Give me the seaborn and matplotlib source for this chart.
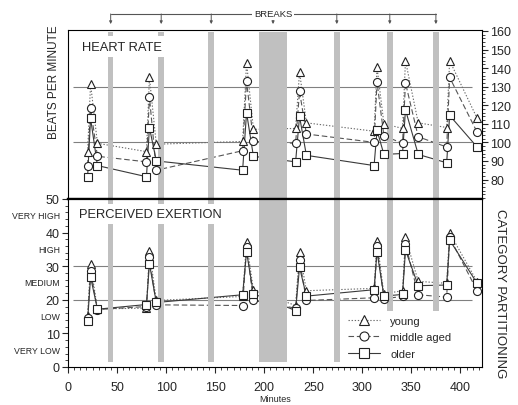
import pandas as pd
import matplotlib
matplotlib.use('Agg')
import matplotlib.pyplot as plt
import matplotlib.transforms as mtransforms
from matplotlib.lines import Line2D
from matplotlib.ticker import MultipleLocator
import seaborn as sns

# Data
minutes = [20, 23, 30, 80, 83, 90, 178, 182, 189, 232, 236, 243,
           312, 315, 322, 341, 344, 357, 386, 389, 417]
groups = ['young', 'middle aged', 'older']

hr_young = [95, 131.5, 99.5, 95, 135, 99, 100.5, 143, 107, 107.5, 138, 110.5,
            106, 140.5, 110, 107.5, 144, 110.5, 108, 144, 113]
hr_middle = [87.5, 118.5, 92.5, 89.5, 124.5, 85, 95.5, 133, 100.5, 99.5, 127.5, 104.5,
             100, 132.5, 103.5, 99.5, 132, 103, 97.5, 135, 105.5]
hr_older = [81.5, 113, 87.5, 81.5, 108, 90, 85, 116, 92.5, 89.5, 114, 93,
            87.5, 106.5, 93.5, 94, 117.5, 93.5, 89, 114.5, 97.5]

rpe_young = [15.2, 30.6, 17.3, 17.5, 34.6, 19.8, 21, 37.1, 22.9, 18.3, 34.3, 22.7,
             23.4, 37.4, 21.8, 22.7, 38.6, 25.5, 24.9, 39.9, 25.4]
rpe_middle = [14.5, 28.6, 17.1, 18, 32.6, 18.5, 18.3, 35.6, 19.8, 17.5, 31.8, 19.8,
              20.6, 35.9, 20.3, 21, 36.6, 21.5, 20.8, 38.6, 22.7]
rpe_older = [13.8, 26.8, 17.2, 18.6, 30.7, 19.2, 21.5, 34.3, 21.8, 16.8, 29.7, 21.1,
             23, 34.3, 21.1, 21.6, 34.8, 24.2, 24.4, 37.8, 24.9]

breaks = [(41, 46), (92, 98), (143, 149), (195, 223), (271, 277), (325, 331), (372, 378)]
hr_refs = [100, 130]
rpe_refs = [20, 30]
hr_ticks = [80, 90, 100, 110, 120, 130, 140, 150, 160]
rpe_ticks = [0, 10, 20, 30, 40, 50]
x_ticks = [0, 50, 100, 150, 200, 250, 300, 350, 400]
categories = ['VERY LOW', 'LOW', 'MEDIUM', 'HIGH', 'VERY HIGH']
category_pos = [5, 15, 25, 35, 45]

frames = []
for g, hr, rpe in zip(groups, [hr_young, hr_middle, hr_older], [rpe_young, rpe_middle, rpe_older]):
    frames.append(pd.DataFrame({'minute': minutes, 'group': g, 'hr': hr, 'rpe': rpe}))
df = pd.concat(frames, ignore_index=True)

sns.set_style('ticks')
plt.rcParams['font.family'] = ['Liberation Sans', 'DejaVu Sans']

markers = {'young': '^', 'middle aged': 'o', 'older': 's'}
dashes = {'young': (1.2, 1.6), 'middle aged': (5, 2.5), 'older': ''}
palette = {'young': '#6a6a6a', 'middle aged': '#555555', 'older': '#3a3a3a'}
band_color = '#c0c0c0'

fig = plt.figure(figsize=(5.18, 4.06), dpi=100)
W, H = 518, 406
ax1 = fig.add_axes([68 / W, 1 - 200 / H, 414 / W, 169 / H])
ax2 = fig.add_axes([68 / W, 1 - 368 / H, 414 / W, 168 / H])

mark_kws = dict(markerfacecolor='white', markeredgecolor='#222222', markersize=5.8,
                markeredgewidth=0.8)
for ax, col in [(ax1, 'hr'), (ax2, 'rpe')]:
    # lines (the break bands are drawn over them)
    sns.lineplot(data=df, x='minute', y=col, hue='group', style='group',
                 palette=palette, dashes=dashes, markers=False,
                 estimator=None, errorbar=None, sort=False, legend=False,
                 ax=ax, linewidth=0.8, zorder=2)
    # open markers on top
    sns.lineplot(data=df, x='minute', y=col, hue='group', style='group',
                 palette=palette, dashes=False, markers=markers,
                 estimator=None, errorbar=None, sort=False, legend=False,
                 ax=ax, linewidth=0, zorder=3, **mark_kws)
    ax.set_xlim(0, 422)
    ax.set_xlabel('')
    ax.set_ylabel('')

# rest breaks
for a, b in breaks:
    ax1.axvspan(a, b, ymin=0, ymax=0.988, color=band_color, lw=0, zorder=2.2)
    ax2.axvspan(a, b, ymin=0.03, ymax=1, color=band_color, lw=0, zorder=2.2)

ax1.hlines(hr_refs, 5, 412, color='#808080', lw=0.8, zorder=1.5)
ax2.hlines(rpe_refs, 5, 412, color='#808080', lw=0.8, zorder=1.5)

# upper panel axes
ax1.set_ylim(69.5, 160.5)
ax1.yaxis.tick_right()
ax1.set_yticks(hr_ticks)
ax1.yaxis.set_minor_locator(MultipleLocator(2))
ax1.tick_params(axis='x', which='both', bottom=False, labelbottom=False)
ax1.tick_params(axis='y', which='major', length=4, width=0.8, labelsize=9, pad=2, direction='out')
ax1.tick_params(axis='y', which='minor', length=2, width=0.6, direction='out')

# lower panel axes
ax2.set_ylim(0, 50)
ax2.set_yticks(rpe_ticks)
ax2.yaxis.set_minor_locator(MultipleLocator(2))
ax2.set_xticks(x_ticks)
ax2.xaxis.set_minor_locator(MultipleLocator(6.25))
ax2.tick_params(axis='both', which='major', length=4, width=0.8, labelsize=9, direction='out')
ax2.tick_params(axis='x', which='major', pad=6)
ax2.tick_params(axis='y', which='major', pad=2)
ax2.tick_params(axis='both', which='minor', length=2, width=0.6, direction='out')
ax2.set_xlabel('Minutes', fontsize=6.5, labelpad=1)

for ax in (ax1, ax2):
    for s in ax.spines.values():
        s.set_visible(True)
        s.set_color('black')
        s.set_linewidth(0.8)
ax1.spines['bottom'].set_linewidth(1.6)
ax2.spines['top'].set_linewidth(1.6)

# panel titles
box = dict(facecolor='white', edgecolor='none', pad=3)
ax1.text(0.034, 0.902, 'HEART RATE', transform=ax1.transAxes, fontsize=9.3,
         ha='left', va='center', bbox=box, zorder=4)
ax2.text(0.027, 0.911, 'PERCEIVED EXERTION', transform=ax2.transAxes, fontsize=9.3,
         ha='left', va='center', bbox=box, zorder=4)

# category labels on the left of the lower panel
cat_trans = mtransforms.offset_copy(ax2.get_yaxis_transform(), fig=fig, x=-8, y=0, units='dots')
for lab, pos in zip(categories, category_pos):
    ax2.text(0, pos, lab, transform=cat_trans, ha='right', va='center', fontsize=6.3, clip_on=False)

fig.text(54 / W, 1 - 82 / H, 'BEATS PER MINUTE', rotation=90, ha='center', va='center', fontsize=8.5)
fig.text(500 / W, 1 - 294 / H, 'CATEGORY PARTITIONING', rotation=270, ha='center', va='center', fontsize=9.5)

# breaks bracket on top
btrans = mtransforms.blended_transform_factory(ax1.transData, ax1.transAxes)
centers = [(a + b) / 2 for a, b in breaks]
ax1.plot([centers[0], centers[-1]], [1.095, 1.095], transform=btrans, clip_on=False,
         color='#555555', lw=0.8)
for c in centers:
    ax1.annotate('', xy=(c, 1.035), xycoords=btrans, xytext=(c, 1.095), textcoords=btrans,
                 arrowprops=dict(arrowstyle='-|>', color='#555555', lw=0.7,
                                 mutation_scale=4, shrinkA=0, shrinkB=0))
ax1.text(centers[3], 1.1, 'BREAKS', transform=btrans, ha='center', va='center',
         fontsize=6.8, bbox=dict(facecolor='white', edgecolor='none', pad=1.5))

# legend
handles = []
for g in groups:
    kw = dict(color=palette[g], marker=markers[g], markerfacecolor='white',
              markeredgecolor='#222222', markersize=6.5, markeredgewidth=0.8, linewidth=0.8)
    if dashes[g]:
        kw['dashes'] = dashes[g]
    handles.append(Line2D([], [], **kw))
ax2.legend(handles=handles, labels=groups, loc='lower left', bbox_to_anchor=(0.664, 0.02),
           borderaxespad=0, frameon=True, facecolor='white', edgecolor='none', framealpha=1,
           fancybox=False, fontsize=8, handlelength=2.9, handletextpad=0.9,
           labelspacing=0.58, borderpad=0.45)

fig.savefig('out.png', dpi=100)
